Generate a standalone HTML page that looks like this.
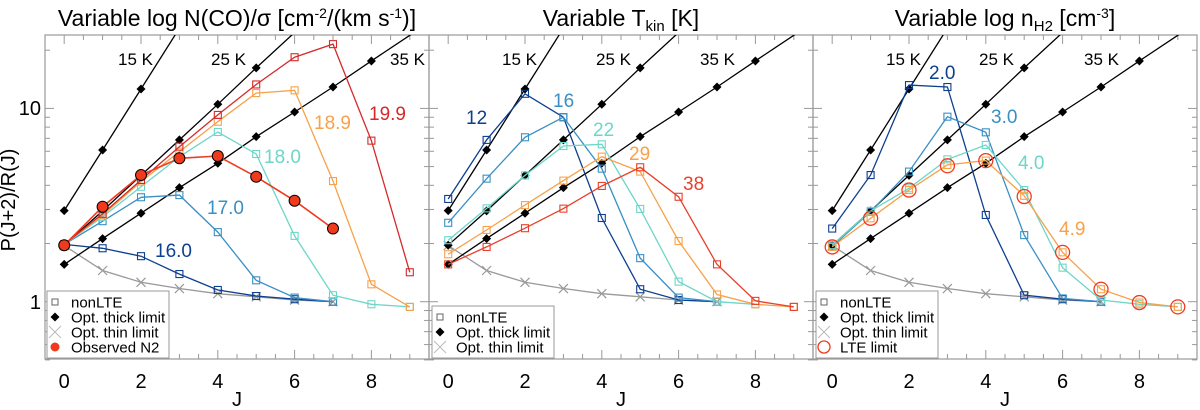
<!DOCTYPE html>
<html><head><meta charset="utf-8">
<style>
body{margin:0;background:#fff;}
svg{display:block;font-family:"Liberation Sans",Arial,sans-serif;}
</style></head>
<body>
<svg id="chart" width="1200" height="410" viewBox="0 0 1200 410" xmlns="http://www.w3.org/2000/svg">
<defs>
<clipPath id="clip0"><rect x="45" y="35" width="384" height="324"/></clipPath>
<clipPath id="clip1"><rect x="429" y="35" width="384" height="324"/></clipPath>
<clipPath id="clip2"><rect x="813" y="35" width="384" height="324"/></clipPath>
</defs>
<text x="15" y="200" font-size="20" text-anchor="middle" transform="rotate(-90 15 200)">P(J+2)/R(J)</text>
</svg>
<script>
// ---- data ----
const J = [0,1,2,3,4,5,6,7,8,9,10];
const thick15 = [2.96,6.09,12.6,26,54];
const thick25 = [1.96,2.95,4.5,6.87,10.5,16.2,24.7,37.7];
const thick35 = [1.56,2.12,2.87,3.89,5.2,7.14,9.58,12.9,17.6,23.9,32];
const thinLimit = [1.95,1.45,1.26,1.17,1.10,1.06,1.02,1.0];
// panel 1: variable log N(CO)/sigma
const p1Labels = ["16.0","17.0","18.0","18.9","19.9"];
const p1s160 = [1.98,1.89,1.72,1.39,1.15,1.07,1.03,1.0];
const p1s170 = [1.98,2.61,3.47,3.56,2.29,1.29,1.05,1.0];
const p1s180 = [1.98,2.75,3.93,5.62,7.55,5.81,2.19,1.08,0.97,0.94];
const p1s189 = [1.98,2.8,4.18,5.97,8.53,12.0,12.4,4.21,1.23,0.94];
const p1s199 = [1.98,2.85,4.26,6.34,9.25,13.3,18.4,21.5,6.81,1.42];
const observedN2 = [1.96,3.10,4.52,5.52,5.67,4.43,3.33,2.39];
// panel 2: variable Tkin
const p2Labels = ["12","16","22","29","38"];
const p2s12 = [3.40,6.87,11.9,9.0,2.71,1.16,1.02,1.0];
const p2s16 = [2.56,4.33,7.09,9.0,4.88,1.68,1.05,1.0];
const p2s22 = [2.08,3.04,4.5,6.39,6.52,3.02,1.27,1.0,0.97];
const p2s29 = [1.76,2.35,3.16,4.23,5.63,4.71,2.06,1.09,0.97,0.94];
const p2s38 = [1.56,1.92,2.40,3.03,3.97,4.96,3.49,1.56,1.01,0.94];
// panel 3: variable log nH2
const p3Labels = ["2.0","3.0","4.0","4.9"];
const p3s20 = [2.39,4.52,13.2,12.9,2.81,1.08,1.03,1.0];
const p3s30 = [1.93,2.92,4.71,9.06,7.52,2.21,1.04,1.0];
const p3s40 = [1.96,2.95,3.86,5.45,6.47,3.78,1.50,1.02,0.97,0.94];
const p3s49 = [1.92,2.70,3.78,5.10,5.37,3.53,1.80,1.16,0.99,0.94];
const lteLimit = [1.92,2.70,3.78,5.05,5.37,3.50,1.80,1.16,0.99,0.94];
const xTicks = [0,2,4,6,8];

const NS="http://www.w3.org/2000/svg";
const svg=document.getElementById('chart');
const lefts=[45,429,813], PW=384, TOP=35, BOT=359;
const xs=(p,j)=>lefts[p]+(j+0.5)*38.4;
const ys=v=>301.7-193.3*Math.log10(v);
function el(tag,attrs,parent){const e=document.createElementNS(NS,tag);for(const k in attrs)e.setAttribute(k,attrs[k]);(parent||svg).appendChild(e);return e;}
function series(p,vals,color,marker,name,width){
  const g=el('g',{'clip-path':`url(#clip${p})`});
  
  
  const pts=vals.map((v,i)=>xs(p,J[i]).toFixed(1)+','+ys(v).toFixed(1)).join(' ');
  if(width!==0) el('polyline',{points:pts,fill:'none',stroke:color,'stroke-width':width||1.3},g);
  vals.forEach((v,i)=>{
    const x=xs(p,J[i]),y=ys(v);
    if(y<TOP+3)return;
    let m;
    if(marker==='sq') m=el('rect',{x:x-3.5,y:y-3.5,width:7,height:7,fill:'none',stroke:color,'stroke-width':1.1},g);
    else if(marker==='dia') m=el('path',{d:`M${x},${y-4.5}L${x+4.5},${y}L${x},${y+4.5}L${x-4.5},${y}Z`,fill:'#000'},g);
    else if(marker==='x') m=el('path',{d:`M${x-4.5},${y-4.5}L${x+4.5},${y+4.5}M${x-4.5},${y+4.5}L${x+4.5},${y-4.5}`,stroke:'#999','stroke-width':1.2},g);
    else if(marker==='dot') m=el('circle',{cx:x,cy:y,r:5.5,fill:'#f03a1e',stroke:'#000','stroke-width':1},g);
    else if(marker==='ring') m=el('circle',{cx:x,cy:y,r:7,fill:'none',stroke:'#f03a1e','stroke-width':1.3},g);
    
    
  });
}
function txt(x,y,s,color,size,name,anchor){const t=el('text',{x:x,y:y,fill:color,'font-size':size,'text-anchor':anchor||'start'});t.textContent=s;return t;}

const DB='#0d3f8f',SB='#3a8fc5',TQ='#6dd6c8',OR='#f8a14a',RD='#d62a2a',RO='#e8402a';
for(let p=0;p<3;p++){
  const L=lefts[p],R=L+PW;
  const f=el('rect',{x:L,y:TOP,width:PW,height:BOT-TOP,fill:'none',stroke:'#999','stroke-width':1.2});
  
  
  [0.5,0.6,0.7,0.8,0.9,1,2,3,4,5,6,7,8,9,10,20].forEach(v=>{
    const y=ys(v),maj=(v===1||v===10),len=maj?9:5;
    el('line',{x1:L,x2:L+len,y1:y,y2:y,stroke:'#999'});
    el('line',{x1:R,x2:R-len,y1:y,y2:y,stroke:'#999'});
  });
  for(let j=0;j<=9;j+=0.5){
    const x=xs(p,j),maj=(j%2===0),len=maj?9:5;
    el('line',{x1:x,x2:x,y1:BOT,y2:BOT-len,stroke:'#999'});
    el('line',{x1:x,x2:x,y1:TOP,y2:TOP+len,stroke:'#999'});
  }
  xTicks.forEach(j=>txt(xs(p,j),388,String(j),'#000',20,'x-tick-label','middle'));
  txt(L+PW/2,406,'J','#000',20,'x-axis-title','middle');
  series(p,thinLimit,'#999','x','opt-thin-limit',1.3);
  series(p,thick15,'#000','dia','opt-thick-15k',1.3);
  series(p,thick25,'#000','dia','opt-thick-25k',1.3);
  series(p,thick35,'#000','dia','opt-thick-35k',1.3);
}
txt(41,115,'10','#000',20,'y-tick-label','end');
txt(41,309,'1','#000',20,'y-tick-label','end');

series(0,p1s160,DB,'sq','series-16-0');
series(0,p1s170,SB,'sq','series-17-0');
series(0,p1s180,TQ,'sq','series-18-0');
series(0,p1s189,OR,'sq','series-18-9');
series(0,p1s199,RD,'sq','series-19-9');
series(0,observedN2,'#f03a1e','dot','observed-n2',1.6);
series(1,p2s12,DB,'sq','series-12');
series(1,p2s16,SB,'sq','series-16');
series(1,p2s22,TQ,'sq','series-22');
series(1,p2s29,OR,'sq','series-29');
series(1,p2s38,RO,'sq','series-38');
series(2,p3s20,DB,'sq','series-2-0');
series(2,p3s30,SB,'sq','series-3-0');
series(2,p3s40,TQ,'sq','series-4-0');
series(2,p3s49,OR,'sq','series-4-9');
series(2,lteLimit,'#f03a1e','ring','lte-limit',0);

[[118,211,390],[502,596,700],[886,979,1084]].forEach(a=>{
  txt(a[0],65,'15 K','#000',17,'label-15k');
  txt(a[1],65,'25 K','#000',17,'label-25k');
  txt(a[2],65,'35 K','#000',17,'label-35k');
});
txt(155,257,p1Labels[0],DB,19,'label-16-0');
txt(207,214,p1Labels[1],SB,19,'label-17-0');
txt(264,163,p1Labels[2],TQ,19,'label-18-0');
txt(314,129,p1Labels[3],OR,19,'label-18-9');
txt(369,120,p1Labels[4],RD,19,'label-19-9');
txt(466,124,p2Labels[0],DB,19,'label-12');
txt(553,107,p2Labels[1],SB,19,'label-16');
txt(593,136,p2Labels[2],TQ,19,'label-22');
txt(629,160,p2Labels[3],OR,19,'label-29');
txt(683,190,p2Labels[4],RO,19,'label-38');
txt(929,79,p3Labels[0],DB,19,'label-2-0');
txt(991,123,p3Labels[1],SB,19,'label-3-0');
txt(1018,169,p3Labels[2],TQ,19,'label-4-0');
txt(1059,235,p3Labels[3],OR,19,'label-4-9');

const t1=txt(237,26,'','#000',23,'panel-1-title','middle');
t1.innerHTML='Variable log N(CO)/σ [cm<tspan dy="-8" font-size="14">-2</tspan><tspan dy="8">/(km s</tspan><tspan dy="-8" font-size="14">-1</tspan><tspan dy="8">)]</tspan>';
const t2=txt(621,26,'','#000',23,'panel-2-title','middle');
t2.innerHTML='Variable T<tspan dy="5" font-size="15">kin</tspan><tspan dy="-5"> [K]</tspan>';
const t3=txt(1005,26,'','#000',23,'panel-3-title','middle');
t3.innerHTML='Variable log n<tspan dy="5" font-size="15">H2</tspan><tspan dy="-5"> [cm</tspan><tspan dy="-8" font-size="14">-3</tspan><tspan dy="8">]</tspan>';

function legend(p,x0,y0,w,entries){
  const g=el('g',{});
  
  
  el('rect',{x:x0,y:y0,width:w,height:entries.length*15+7,fill:'#fff',stroke:'#999','stroke-width':1},g);
  entries.forEach((e,i)=>{
    const cy=y0+11+i*15,cx=x0+8;
    if(e[0]==='sq') el('rect',{x:cx-3,y:cy-3,width:6,height:6,fill:'none',stroke:'#666'},g);
    if(e[0]==='dia') el('path',{d:`M${cx},${cy-4.5}L${cx+4.5},${cy}L${cx},${cy+4.5}L${cx-4.5},${cy}Z`,fill:'#000'},g);
    if(e[0]==='x') el('path',{d:`M${cx-6},${cy-6}L${cx+6},${cy+6}M${cx-6},${cy+6}L${cx+6},${cy-6}`,stroke:'#bbb'},g);
    if(e[0]==='dot') el('circle',{cx:cx,cy:cy,r:4.5,fill:'#f03a1e'},g);
    if(e[0]==='ring') el('circle',{cx:cx,cy:cy,r:6,fill:'none',stroke:'#f03a1e','stroke-width':1.3},g);
    const t=el('text',{x:x0+24,y:cy+5.5,'font-size':15},g);t.textContent=e[1];
    
    
  });
}
legend(0,47,291,122,[['sq','nonLTE'],['dia','Opt. thick limit'],['x','Opt. thin limit'],['dot','Observed N2']]);
legend(1,432,306,122,[['sq','nonLTE'],['dia','Opt. thick limit'],['x','Opt. thin limit']]);
legend(2,816,291,122,[['sq','nonLTE'],['dia','Opt. thick limit'],['x','Opt. thin limit'],['ring','LTE limit']]);
</script>
</body></html>
